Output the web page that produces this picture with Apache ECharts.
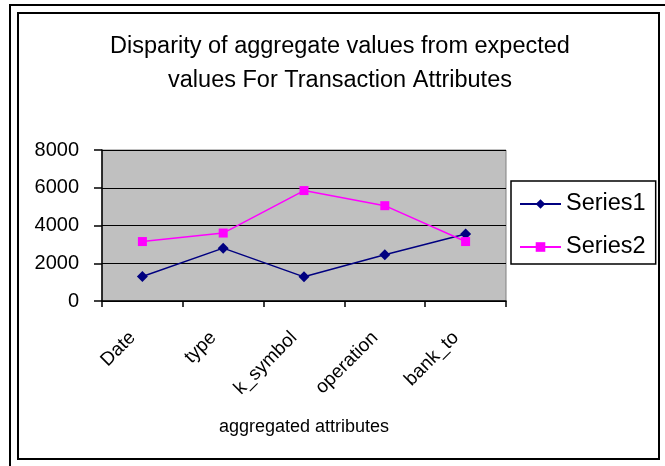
<!DOCTYPE html>
<html><head><meta charset="utf-8">
<script src="https://cdn.jsdelivr.net/npm/echarts@6/dist/echarts.min.js"></script>
<style>html,body{margin:0;padding:0;background:#fff}#c{width:665px;height:466px}</style>
</head><body><div id="c"></div>
<script>
const categories = ['Date', 'type', 'k_symbol', 'operation', 'bank_to'];
const series1 = [1300, 2800, 1280, 2450, 3550];
const series2 = [3150, 3600, 5850, 5050, 3150];
const yTicks = [0, 2000, 4000, 6000, 8000];
const titleText = 'Disparity of aggregate values from expected\nvalues For Transaction Attributes';
const xName = 'aggregated attributes';

const chart = echarts.init(document.getElementById('c'), null, {renderer: 'canvas'});
const font = 'Arial, "Liberation Sans", sans-serif';
chart.setOption({
  backgroundColor: '#fff',
  animation: false,
  textStyle: {fontFamily: font, color: '#000'},
  title: {
    text: titleText, left: 335, top: 25, textAlign: 'center',
    textStyle: {fontSize: 23.5, fontWeight: 'normal', color: '#000', lineHeight: 34, fontFamily: font}
  },
  graphic: [
    {type: 'polyline', shape: {points: [[10, 466], [10, 5], [665, 5]]}, style: {stroke: '#000', lineWidth: 2, fill: null}},
    {type: 'rect', shape: {x: 18, y: 13, width: 641, height: 446}, style: {stroke: '#000', lineWidth: 2, fill: null}}
  ],
  legend: {
    orient: 'vertical', left: 511, top: 181,
    data: ['Series1', 'Series2'],
    borderColor: '#000', borderWidth: 1.5, backgroundColor: '#fff',
    padding: [11, 10, 5, 8], itemGap: 19, itemWidth: 41, itemHeight: 12,
    textStyle: {fontSize: 23.5, color: '#000', fontFamily: font}
  },
  grid: {
    left: 102, top: 150, width: 404, height: 151, containLabel: false,
    show: true, backgroundColor: '#c0c0c0', borderColor: '#808080', borderWidth: 1
  },
  xAxis: {
    type: 'category', data: categories, boundaryGap: true,
    name: xName, nameLocation: 'middle', nameGap: 117,
    nameTextStyle: {fontSize: 18, color: '#000', fontFamily: font},
    axisLine: {lineStyle: {color: '#000', width: 1.5}},
    axisTick: {show: true, inside: false, length: 6, interval: 0, alignWithLabel: false, lineStyle: {color: '#000', width: 1.5}},
    axisLabel: {rotate: 45, interval: 0, margin: 24, padding: [0, 14, 0, 0], fontSize: 19, color: '#000', fontFamily: font},
    splitLine: {show: false}
  },
  yAxis: {
    type: 'value', min: yTicks[0], max: yTicks[yTicks.length - 1], interval: 2000,
    axisLine: {show: true, lineStyle: {color: '#000', width: 1.5}},
    axisTick: {show: true, inside: false, length: 8, lineStyle: {color: '#000', width: 1.5}},
    axisLabel: {margin: 23, fontSize: 20, color: '#000', fontFamily: font, formatter: v => String(v)},
    splitLine: {show: true, lineStyle: {color: '#000', width: 1.2}}
  },
  series: [
    {name: 'Series1', type: 'line', data: series1, symbol: 'diamond', symbolSize: 11,
     lineStyle: {color: '#000080', width: 1.5}, itemStyle: {color: '#000080'}},
    {name: 'Series2', type: 'line', data: series2, symbol: 'rect', symbolSize: 9,
     lineStyle: {color: '#ff00ff', width: 1.5}, itemStyle: {color: '#ff00ff'}}
  ]
});
</script></body></html>
